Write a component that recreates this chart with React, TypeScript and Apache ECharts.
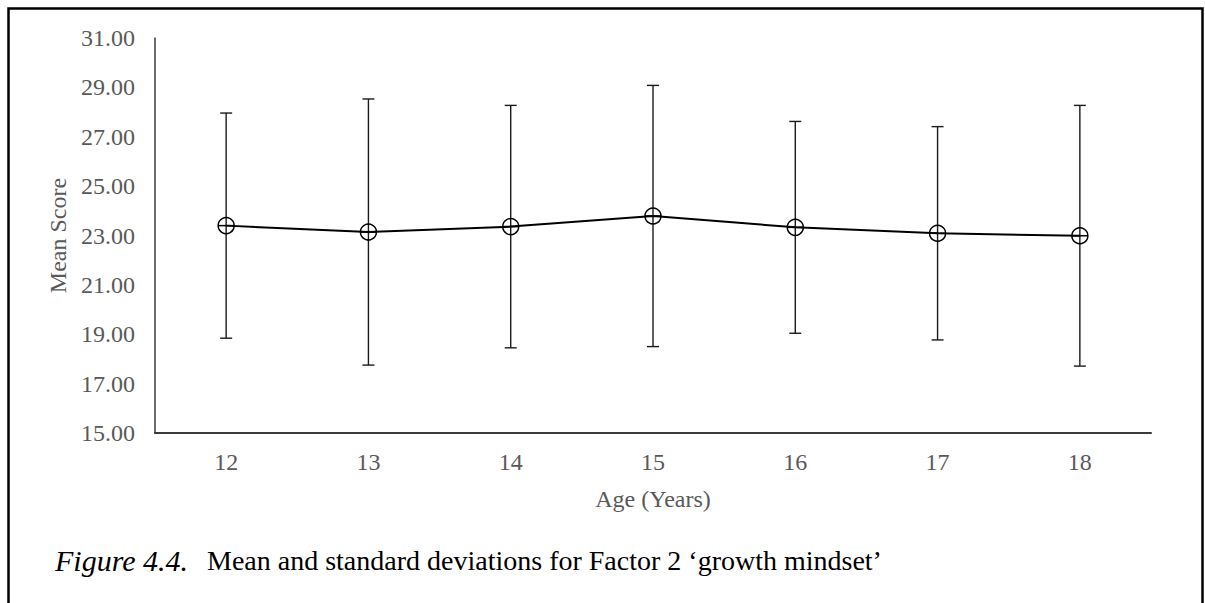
import React, { useEffect, useRef } from "react";
import * as echarts from "echarts";

const ages = ["12", "13", "14", "15", "16", "17", "18"];
const means = [23.4, 23.14, 23.36, 23.79, 23.33, 23.09, 22.99];
const sds = [4.56, 5.39, 4.91, 5.29, 4.29, 4.32, 5.28];
const yTicks = { min: 15, max: 31, interval: 2 };
const xTitle = "Age (Years)";
const yTitle = "Mean Score";
const captionItalic = "Figure 4.4.";
const captionRest = "Mean and standard deviations for Factor 2 \u2018growth mindset\u2019";

export default function App() {
  const ref = useRef<HTMLDivElement>(null);
  useEffect(() => {
    if (!ref.current) return;
    const chart = echarts.init(ref.current, undefined, { renderer: "svg" });
    const font = "'Liberation Serif', 'Times New Roman', serif";
    const errData = ages.map((a, i) => [i, means[i], sds[i]]);
    chart.setOption({
      animation: false,
      backgroundColor: "#ffffff",
      grid: { left: 155, top: 38, right: 54, bottom: 170, containLabel: false },
      xAxis: {
        type: "category",
        data: ages,
        boundaryGap: true,
        axisLine: { lineStyle: { color: "#3a3a3a", width: 2 } },
        axisTick: { show: false },
        axisLabel: { color: "#595959", fontFamily: font, fontSize: 24, margin: 17 },
        name: xTitle,
        nameLocation: "middle",
        nameGap: 54,
        nameTextStyle: { color: "#595959", fontFamily: font, fontSize: 24 },
        splitLine: { show: false },
      },
      yAxis: {
        type: "value",
        min: yTicks.min,
        max: yTicks.max,
        interval: yTicks.interval,
        axisLine: { show: true, lineStyle: { color: "#3a3a3a", width: 1.5 } },
        axisTick: { show: false },
        splitLine: { show: false },
        axisLabel: {
          color: "#595959",
          fontFamily: font,
          fontSize: 24,
          margin: 20,
          formatter: (v: number) => v.toFixed(2),
        },
        name: yTitle,
        nameLocation: "middle",
        nameGap: 85,
        nameTextStyle: { color: "#595959", fontFamily: font, fontSize: 24 },
      },
      series: [
        {
          type: "line",
          data: means,
          symbol: "none",
          lineStyle: { color: "#000000", width: 2 },
          z: 2,
        },
        {
          type: "custom",
          data: errData,
          z: 3,
          renderItem: (params: any, api: any) => {
            const i = api.value(0);
            const m = api.value(1);
            const s = api.value(2);
            const c = api.coord([i, m]);
            const t = api.coord([i, m + s]);
            const b = api.coord([i, m - s]);
            const cap = 6;
            const r = 8;
            const st = { stroke: "#1a1a1a", lineWidth: 1.4, fill: "none" };
            return {
              type: "group",
              children: [
                { type: "line", shape: { x1: c[0], y1: t[1], x2: c[0], y2: b[1] }, style: st },
                { type: "line", shape: { x1: c[0] - cap, y1: t[1], x2: c[0] + cap, y2: t[1] }, style: st },
                { type: "line", shape: { x1: c[0] - cap, y1: b[1], x2: c[0] + cap, y2: b[1] }, style: st },
                { type: "circle", shape: { cx: c[0], cy: c[1], r }, style: { stroke: "#000", lineWidth: 1.5, fill: "none" } },
                { type: "line", shape: { x1: c[0] - r, y1: c[1], x2: c[0] + r, y2: c[1] }, style: { stroke: "#000", lineWidth: 1.5 } },
              ],
            };
          },
        },
      ],
      graphic: [
        {
          type: "rect",
          shape: { x: 8.5, y: 8.5, width: 1194, height: 640 },
          style: { fill: "none", stroke: "#000", lineWidth: 2.5 },
          silent: true,
        },
        {
          type: "text",
          left: 55,
          top: 545,
          style: {
            text: captionItalic,
            font: `italic 30px ${font}`,
            fill: "#000",
          },
        },
        {
          type: "text",
          left: 207,
          top: 546,
          style: {
            text: captionRest,
            font: `28px ${font}`,
            fill: "#000",
          },
        },
      ],
    });
    return () => chart.dispose();
  }, []);
  return (
    <div
      ref={ref}
      style={{ position: "absolute", left: 0, top: 0, width: 1205, height: 603 }}
    />
  );
}
